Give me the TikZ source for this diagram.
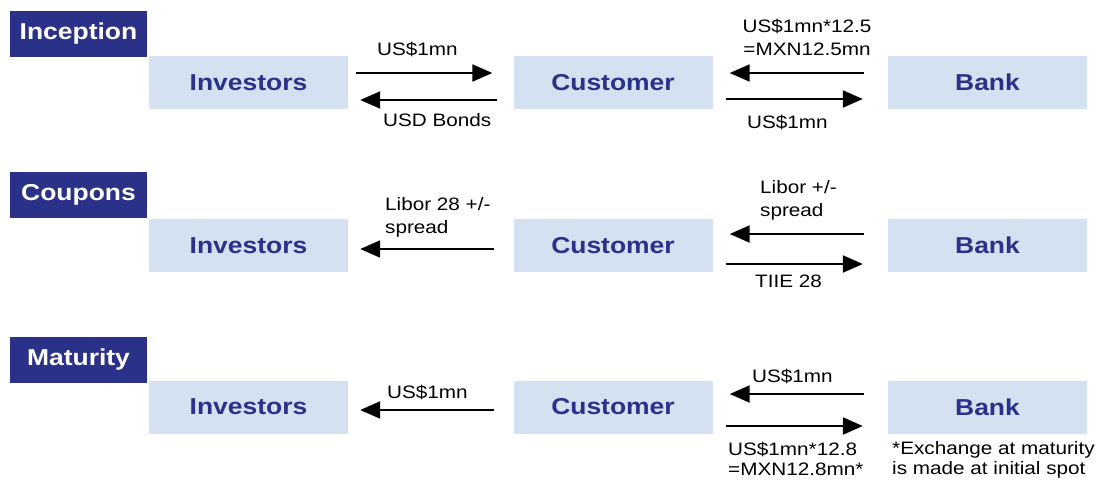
\documentclass[tikz,border=0pt]{standalone}
\usepackage{fontspec}
\setmainfont[FakeStretch=1.15]{Liberation Sans}
\usetikzlibrary{arrows.meta,calc}
\definecolor{deep blue}{RGB}{43,49,136}
\definecolor{pale blue}{RGB}{211,225,241}
\tikzset{
  header/.style={fill=deep blue, text=white, inner sep=0pt,
    minimum width=137pt, minimum height=46pt,
    font=\fontsize{23}{27}\selectfont\bfseries},
  party/.style={fill=pale blue, text=deep blue, inner sep=0pt,
    minimum width=199pt, minimum height=53pt,
    font=\fontsize{23}{28}\selectfont\bfseries},
  flow/.style={-{Triangle[length=20pt,width=17pt]}, line width=2.2pt},
  amount/.style={inner sep=0pt, align=left, font=\fontsize{18}{23}\selectfont}
}

\begin{document}
\begin{tikzpicture}[x=1pt,y=-1pt]
  \useasboundingbox (0,0) rectangle (1103,485);
  % phases
  \node[header] (inception) at (78.5,34) {Inception};
  \node[header] (coupons) at (78.5,195) {Coupons};
  \node[header] (maturity) at (78.5,359.5) {Maturity};
  % parties
  \foreach \row/\y in {1/82.5, 2/245.5, 3/407} {
    \node[party] (inv\row) at (248.5,\y) {Investors};
    \node[party] (cus\row) at (613,\y) {Customer};
    \node[party] (bank\row) at (987.5,\y) {Bank};
  }

  % inception
  \draw[flow] ($(inv1.east)+(8,-9.5)$) -- ($(cus1.west)+(-21,-9.5)$);
  \draw[flow] ($(cus1.west)+(-16,17.5)$) -- ($(inv1.east)+(12,17.5)$);
  \draw[flow] ($(bank1.west)+(-24,-9.5)$) -- ($(cus1.east)+(17,-9.5)$);
  \draw[flow] ($(cus1.east)+(13,16.5)$) -- ($(bank1.west)+(-25,16.5)$);
  \node[amount, anchor=base west] (usd1) at (377,55) {US\$1mn};
  \node[amount, anchor=base west] (bonds) at (383,126) {USD Bonds};
  \node[amount, anchor=north, align=center] (mxn1) at (807,19) {US\$1mn*12.5\\=MXN12.5mn};
  \node[amount, anchor=base west] (usd2) at (747,128) {US\$1mn};

  % coupons
  \draw[flow] ($(cus2.west)+(-19,3.5)$) -- ($(inv2.east)+(12,3.5)$);
  \draw[flow] ($(bank2.west)+(-24,-11.5)$) -- ($(cus2.east)+(17,-11.5)$);
  \draw[flow] ($(cus2.east)+(13,18.5)$) -- ($(bank2.west)+(-25,18.5)$);
  \node[amount, anchor=north west] (libor28) at (385,197) {Libor 28 +/-\\spread};
  \node[amount, anchor=north west] (libor) at (760,180) {Libor +/-\\spread};
  \node[amount, anchor=base west] (tiie) at (755,287) {TIIE 28};

  % maturity
  \draw[flow] ($(cus3.west)+(-19,3)$) -- ($(inv3.east)+(12,3)$);
  \draw[flow] ($(bank3.west)+(-24,-13)$) -- ($(cus3.east)+(17,-13)$);
  \draw[flow] ($(cus3.east)+(13,19)$) -- ($(bank3.west)+(-25,19)$);
  \node[amount, anchor=base west] (usd3) at (387,398) {US\$1mn};
  \node[amount, anchor=base west] (usd4) at (752,382) {US\$1mn};
  \node[amount, anchor=north west, font=\fontsize{18}{20}\selectfont] (mxn2) at (728,442) {US\$1mn*12.8\\=MXN12.8mn*};
  \node[amount, anchor=north west, font=\fontsize{18}{20}\selectfont] (spot) at (892,441) {*Exchange at maturity\\is made at initial spot};
\end{tikzpicture}
\end{document}
